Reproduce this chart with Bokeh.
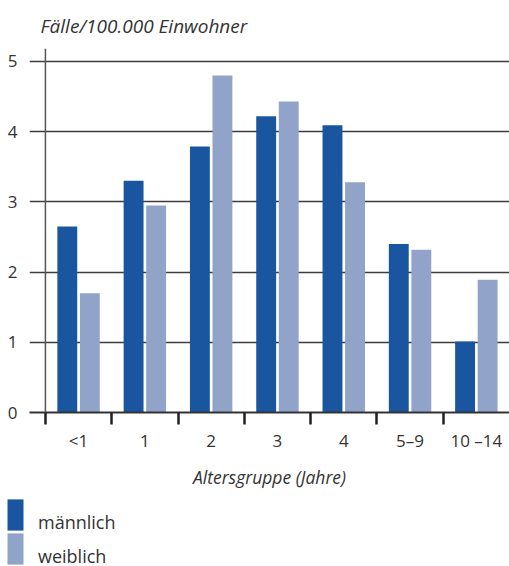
from bokeh.plotting import figure
from bokeh.layouts import column
from bokeh.models import ColumnDataSource, FixedTicker, Span, Legend, LegendItem, Range1d
from bokeh.transform import dodge
from bokeh.embed import file_html
from bokeh.resources import INLINE
import numpy as np

# Daten
gruppen = ["<1", "1", "2", "3", "4", "5–9", "10 –14"]
maennlich = [2.65, 3.30, 3.79, 4.22, 4.09, 2.40, 1.01]
weiblich = [1.70, 2.95, 4.80, 4.43, 3.28, 2.32, 1.89]
y_ticks = [0, 1, 2, 3, 4, 5]

FONT = "Open Sans"
TEXT = "#333333"
BLAU = "#1a56a0"
HELLBLAU = "#91a3c9"

mitte = np.arange(len(gruppen)) + 0.5
grenzen = list(np.arange(len(gruppen) + 1)[:-1])

src = ColumnDataSource(dict(x=mitte, m=maennlich, w=weiblich))

p = figure(width=509, height=494, x_range=Range1d(-0.24, 7.0), y_range=Range1d(0, 5.185),
           output_backend="svg", toolbar_location=None,
           min_border_left=29, min_border_right=0, min_border_top=48, min_border_bottom=82)
p.outline_line_color = None
p.frame_align = False

r1 = p.vbar(x=dodge("x", -0.17, range=p.x_range), top="m", width=0.3, source=src,
            fill_color=BLAU, line_color=None)
r2 = p.vbar(x=dodge("x", 0.17, range=p.x_range), top="w", width=0.3, source=src,
            fill_color=HELLBLAU, line_color=None)

# titel / y-achsenbeschriftung
p.title.text = "Fälle/100.000 Einwohner"
p.title.text_font = FONT
p.title.text_font_style = "italic"
p.title.text_font_size = "19px"
p.title.text_color = TEXT
p.title.offset = 11
p.title.standoff = 19

# x achse
p.xaxis.ticker = FixedTicker(ticks=list(mitte), minor_ticks=[float(g) for g in grenzen])
p.xaxis.major_label_overrides = {float(c): g for c, g in zip(mitte, gruppen)}
p.xaxis.major_tick_out = 0
p.xaxis.major_tick_in = 0
p.xaxis.minor_tick_out = 12
p.xaxis.minor_tick_in = 0
p.xaxis.minor_tick_line_color = "#231f20"
p.xaxis.minor_tick_line_width = 2.5
p.xaxis.axis_line_color = "#333333"
p.xaxis.axis_line_width = 2
p.xaxis.major_label_text_font = FONT
p.xaxis.major_label_text_font_size = "17px"
p.xaxis.major_label_text_color = TEXT
p.xaxis.major_label_standoff = 4
p.xaxis.axis_label = "Altersgruppe (Jahre)"
p.xaxis.axis_label_text_font = FONT
p.xaxis.axis_label_text_font_style = "italic"
p.xaxis.axis_label_text_font_size = "17.5px"
p.xaxis.axis_label_text_color = TEXT
p.xaxis.axis_label_standoff = 10

# y achse
p.yaxis.ticker = FixedTicker(ticks=y_ticks)
p.yaxis.axis_line_color = None
p.yaxis.major_tick_line_color = None
p.yaxis.minor_tick_line_color = None
p.yaxis.major_tick_out = 0
p.yaxis.major_label_text_font = FONT
p.yaxis.major_label_text_font_size = "17px"
p.yaxis.major_label_text_color = TEXT
p.yaxis.major_label_standoff = 12

p.xgrid.grid_line_color = None
p.ygrid.ticker = FixedTicker(ticks=y_ticks)
p.ygrid.grid_line_color = "#3c3c3c"
p.ygrid.grid_line_width = 1.5

p.add_layout(Span(location=0, dimension="height", line_color="#555555", line_width=1.5))

# legende als eigene kleine figur darunter
lg = figure(width=509, height=72, x_range=Range1d(0, 1), y_range=Range1d(0, 1),
            output_backend="svg", toolbar_location=None,
            min_border_left=0, min_border_right=0, min_border_top=0, min_border_bottom=0)
lg.frame_align = False
lg.axis.visible = False
lg.grid.visible = False
lg.outline_line_color = None
# platzhalter ausserhalb des sichtbaren bereichs, nur fuer die legendenfelder
d1 = lg.vbar(x=[5], top=[1], width=0.1, fill_color=BLAU, line_color=None)
d2 = lg.vbar(x=[5], top=[1], width=0.1, fill_color=HELLBLAU, line_color=None)
leer = lg.vbar(x=[5], top=[1], width=0.1, fill_alpha=0, line_color=None)

basis = dict(glyph_width=20, padding=0, margin=0, label_standoff=13,
             label_text_font=FONT, label_text_font_size="18px", label_text_color=TEXT,
             border_line_color=None, background_fill_alpha=0)
feld = dict(glyph_height=39, label_height=39, **basis)
text = dict(glyph_height=40, label_height=40, **basis)

# farbfelder
lg.add_layout(Legend(items=[LegendItem(label=" ", renderers=[d1])], location=(5, 32), **feld))
lg.add_layout(Legend(items=[LegendItem(label=" ", renderers=[d2])], location=(5, -2), **feld))
# beschriftungen, etwas tiefer als die feldmitte wie im original
lg.add_layout(Legend(items=[LegendItem(label="männlich", renderers=[leer])], location=(5, 24), **text))
lg.add_layout(Legend(items=[LegendItem(label="weiblich", renderers=[leer])], location=(5, -10), **text))

layout = column(p, lg, spacing=0)

open("out.html", "w").write(file_html(layout, INLINE))
